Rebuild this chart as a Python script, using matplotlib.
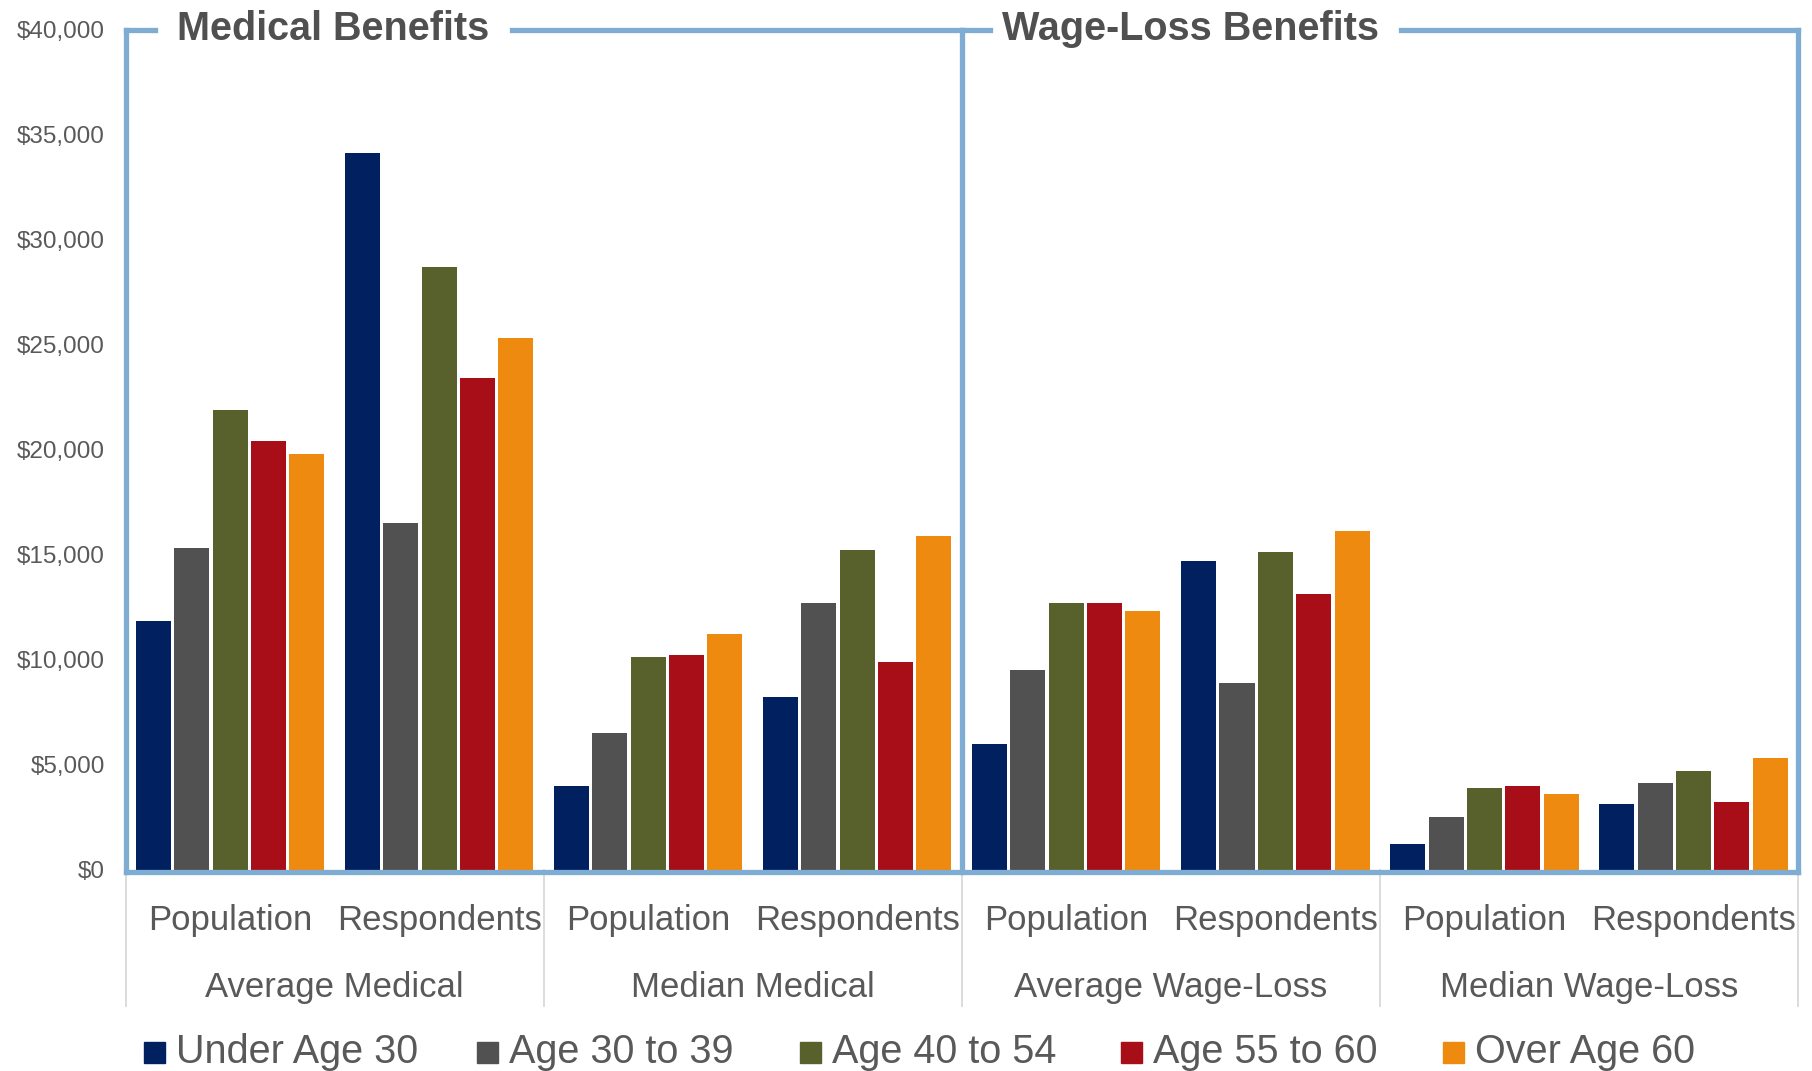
import matplotlib
matplotlib.use("Agg")
import matplotlib.pyplot as plt
import numpy as np
from matplotlib.patches import Rectangle
from matplotlib.lines import Line2D
import matplotlib.transforms as mtransforms

plt.rcParams['font.family'] = ['Liberation Sans', 'DejaVu Sans']

# ---- data ----
subcategories = ["Population", "Respondents"] * 4
groups = ["Average Medical", "Median Medical", "Average Wage-Loss", "Median Wage-Loss"]
panels = ["Medical Benefits", "Wage-Loss Benefits"]
series = ["Under Age 30", "Age 30 to 39", "Age 40 to 54", "Age 55 to 60", "Over Age 60"]

under_30 = [11850, 34100, 4000, 8200, 6000, 14700, 1200, 3100]
age_30_39 = [15300, 16500, 6500, 12700, 9500, 8900, 2500, 4100]
age_40_54 = [21900, 28700, 10100, 15200, 12700, 15100, 3900, 4700]
age_55_60 = [20400, 23400, 10200, 9900, 12700, 13100, 4000, 3200]
over_60 = [19800, 25300, 11200, 15900, 12300, 16100, 3600, 5300]
values = [under_30, age_30_39, age_40_54, age_55_60, over_60]

yticks = list(range(0, 40001, 5000))

colors = ['#002060', '#515151', '#58612B', '#A80E17', '#EF8A10']
frame_color = '#7EACD3'
text_gray = '#595959'
title_gray = '#505050'

W, H = 1812, 1071
fig = plt.figure(figsize=(W / 100, H / 100), dpi=100)
ax_l, ax_r, ax_b, ax_t = 125.5, 1798.0, 869.5, 29.5
ax = fig.add_axes([ax_l / W, 1 - ax_b / H, (ax_r - ax_l) / W, (ax_b - ax_t) / H])

x = np.arange(len(subcategories))
step = 0.1834
bw = 0.1675
for i, (name, vals) in enumerate(zip(series, values)):
    ax.bar(x + (i - 2) * step, vals, width=bw, color=colors[i], label=name,
           edgecolor='none', zorder=2)

ax.set_xlim(-0.5, len(subcategories) - 0.5)
ax.set_ylim(0, 40000)
for s in ax.spines.values():
    s.set_visible(False)

ax.set_yticks(yticks)
ax.set_yticklabels(["${:,}".format(v) for v in yticks], fontsize=17.5, color=text_gray)
ax.tick_params(axis='y', length=0, pad=15)
ax.set_xticks(x)
ax.set_xticklabels(subcategories, fontsize=25, color=text_gray)
ax.tick_params(axis='x', length=0, pad=25)

trans = mtransforms.blended_transform_factory(ax.transData, ax.transAxes)
px = 1.0 / (ax_b - ax_t)  # one pixel in axes-fraction

# group labels
for g, name in enumerate(groups):
    ax.text(2 * g + 0.5, -(987.5 - ax_b) * px, name, transform=trans,
            ha='center', va='center', fontsize=25, color=text_gray)

# separators under axis
for sx in [-0.5, 1.5, 3.5, 5.5, 7.5]:
    ax.add_line(Line2D([sx, sx], [0, -(1006 - ax_b) * px], transform=trans,
                       color='#D9D9D9', lw=1.3, clip_on=False, zorder=1))

# blue frames
lw = 3.8
def seg(xs, ys):
    ax.add_line(Line2D(xs, ys, transform=trans, color=frame_color, lw=lw,
                       clip_on=False, zorder=3, solid_capstyle='projecting'))

def dx(p):
    return -0.5 + (p - ax_l) / 209.06

seg([-0.5, 7.5], [-2 * px, -2 * px])
seg([-0.5, -0.5], [-2 * px, 1])
seg([3.5, 3.5], [-2 * px, 1])
seg([7.5, 7.5], [-2 * px, 1])
seg([-0.5, dx(155)], [1, 1])
seg([dx(512), 3.5], [1, 1])
seg([3.5, dx(990)], [1, 1])
seg([dx(1401), 7.5], [1, 1])

ax.text(dx(333), 1 + 0.5 * px, panels[0], transform=trans, ha='center', va='center',
        fontsize=28.5, fontweight='bold', color=title_gray)
ax.text(dx(1190), 1 + 0.5 * px, panels[1], transform=trans, ha='center', va='center',
        fontsize=28.5, fontweight='bold', color=title_gray)

# legend (manual layout)
marker_x = [144, 477, 800, 1121, 1443]
ly = 1052
for i, name in enumerate(series):
    fig.add_artist(Rectangle((marker_x[i] / W, 1 - (ly + 10.5) / H), 21 / W, 21 / H,
                             transform=fig.transFigure, color=colors[i]))
    fig.text((marker_x[i] + 32) / W, 1 - ly / H, name, ha='left', va='center',
             fontsize=28.5, color=text_gray)

fig.savefig("out.png", dpi=100)
